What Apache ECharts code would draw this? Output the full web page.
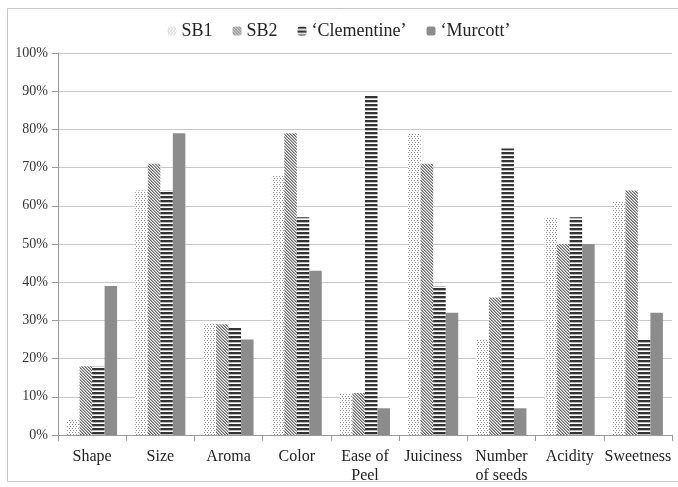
<!DOCTYPE html>
<html><head><meta charset="utf-8">
<script src="https://cdn.jsdelivr.net/npm/echarts@6/dist/echarts.min.js"></script>
<style>html,body{margin:0;padding:0;background:#fff}#c{width:678px;height:487px}</style>
</head><body><div id="c"></div>
<script>
const categories = ['Shape','Size','Aroma','Color','Ease of\nPeel','Juiciness','Number\nof seeds','Acidity','Sweetness'];
const seriesNames = ['SB1','SB2','\u2018Clementine\u2019','\u2018Murcott\u2019'];
const sb1 = [4,64,29,68,11,79,25,57,61];
const sb2 = [18,71,29,79,11,71,36,50,64];
const clementine = [18,64,28,57,89,39,75,57,25];
const murcott = [39,79,25,43,7,32,7,50,32];
const yTicks = [0,10,20,30,40,50,60,70,80,90,100];

function pat(w,h,draw){const c=document.createElement('canvas');c.width=w;c.height=h;const x=c.getContext('2d');x.fillStyle='#fff';x.fillRect(0,0,w,h);draw(x);return {image:c,repeat:'repeat'};}
const pDots = pat(3,4,x=>{x.fillStyle='#8a8a8a';x.fillRect(0,0,1,1);x.fillRect(1,2,1,1);});
const pDiag = pat(3,3,x=>{x.fillStyle='#686868';for(let i=0;i<3;i++)x.fillRect(i,i,1,1);x.fillStyle='#aaaaaa';for(let i=0;i<3;i++)x.fillRect((i+1)%3,i,1,1);});
const pHor = pat(1,4,x=>{x.fillStyle='#333';x.fillRect(0,0,1,2);x.fillStyle='#bbb';x.fillRect(0,2,1,1);});
const solid = '#8c8c8c';
const fills = [pDots,pDiag,pHor,solid];
const datas = [sb1,sb2,clementine,murcott];

const chart = echarts.init(document.getElementById('c'));
chart.setOption({
  animation:false,
  textStyle:{fontFamily:'Liberation Serif'},
  graphic:[{type:'rect',shape:{x:7.5,y:8.5,width:700,height:473},style:{fill:'none',stroke:'#c8c8c8',lineWidth:1},silent:true,z:-1}],
  legend:{top:17,left:'center',itemWidth:9,itemHeight:9,itemGap:20,
    textStyle:{fontFamily:'Liberation Serif',fontSize:18,color:'#222'},
    data:seriesNames},
  grid:{left:58,right:6,top:53,bottom:52},
  xAxis:{type:'category',data:categories,
    axisLine:{lineStyle:{color:'#999'}},
    axisTick:{show:true,length:6,lineStyle:{color:'#999'}},
    axisLabel:{fontFamily:'Liberation Serif',fontSize:16,color:'#222',margin:12,lineHeight:19,interval:0}},
  yAxis:{type:'value',min:0,max:100,interval:10,
    axisLine:{show:true,lineStyle:{color:'#999'}},
    axisTick:{show:true,length:6,lineStyle:{color:'#999'}},
    splitLine:{lineStyle:{color:'#c8c8c8'}},
    axisLabel:{fontFamily:'Liberation Serif',fontSize:14,color:'#333',margin:10,
      formatter:v=>yTicks.includes(v)?v+'%':''}},
  series:seriesNames.map((n,i)=>({name:n,type:'bar',data:datas[i],barWidth:12.5,barGap:'0%',
    itemStyle:{color:fills[i]}}))
});
</script></body></html>
